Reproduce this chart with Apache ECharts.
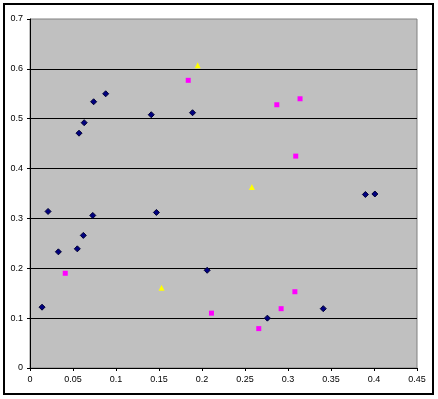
<!DOCTYPE html>
<html>
<head>
<meta charset="utf-8">
<script src="https://cdn.jsdelivr.net/npm/echarts@6/dist/echarts.min.js"></script>
<style>
  html, body { margin: 0; padding: 0; background: #fff; }
  #main { width: 438px; height: 399px; }
</style>
</head>
<body>
<div id="main"></div>
<script>
// navy diamonds
const navyX = [0.014, 0.021, 0.033, 0.055, 0.062, 0.073, 0.057, 0.063, 0.074, 0.088, 0.141, 0.147, 0.189, 0.206, 0.276, 0.341, 0.390, 0.401]
const navyY = [0.122, 0.314, 0.233, 0.239, 0.266, 0.306, 0.471, 0.492, 0.534, 0.550, 0.508, 0.312, 0.512, 0.196, 0.100, 0.119, 0.348, 0.349]
// magenta squares
const pinkX = [0.041, 0.184, 0.211, 0.266, 0.287, 0.292, 0.308, 0.309, 0.314]
const pinkY = [0.190, 0.577, 0.110, 0.079, 0.528, 0.119, 0.153, 0.425, 0.540]
// yellow triangles
const yellowX = [0.153, 0.195, 0.258]
const yellowY = [0.161, 0.607, 0.363]

const xTicks = [0, 0.05, 0.1, 0.15, 0.2, 0.25, 0.3, 0.35, 0.4, 0.45]
// horizontal gridlines (top edge is the gray plot border, not a gridline)
const gridYs = [0.1, 0.2, 0.3, 0.4, 0.5, 0.6]

const zip = (xs, ys) => xs.map((x, i) => [x, ys[i]])

const chart = echarts.init(document.getElementById('main'))

const labelStyle = {
    color: '#000',
    fontFamily: 'Liberation Sans',
    fontSize: 9,
}

chart.setOption({
    animation: false,
    backgroundColor: '#fff',
    graphic: [
        {
            type: 'rect',
            shape: { x: 4, y: 4, width: 429, height: 390 },
            style: { fill: 'none', stroke: '#000', lineWidth: 2 },
            z: 0
        }
    ],
    grid: {
        left: 30,
        top: 19,
        right: 21,
        bottom: 31,
        show: true,
        backgroundColor: '#c0c0c0',
        borderColor: '#808080',
        borderWidth: 1
    },
    xAxis: {
        type: 'value',
        min: 0,
        max: 0.45,
        interval: 0.05,
        splitLine: { show: false },
        axisLine: { show: true, onZero: false, lineStyle: { color: '#000', width: 1 } },
        axisTick: { show: true, length: 3, lineStyle: { color: '#000' } },
        axisLabel: {
            ...labelStyle,
            margin: 7,
            formatter: v => {
                const t = xTicks.find(k => Math.abs(k - v) < 1e-9)
                return t === undefined ? '' : String(t)
            }
        }
    },
    yAxis: {
        type: 'value',
        min: 0,
        max: 0.7,
        interval: 0.1,
        splitLine: { show: false },
        axisLine: { show: true, onZero: false, lineStyle: { color: '#000', width: 1 } },
        axisTick: { show: true, length: 3, lineStyle: { color: '#000' } },
        axisLabel: {
            ...labelStyle,
            margin: 7,
            formatter: v => String(Math.round(v * 10) / 10)
        }
    },
    series: [
        {
            type: 'scatter',
            data: zip(navyX, navyY),
            symbol: 'diamond',
            symbolSize: 6,
            z: 3,
            itemStyle: { color: '#000080', borderColor: '#000033', borderWidth: 1, opacity: 1 },
            markLine: {
                silent: true,
                symbol: 'none',
                label: { show: false },
                lineStyle: { color: '#000', width: 1, type: 'solid' },
                z: 1,
                data: gridYs.map(y => ({ yAxis: y }))
            }
        },
        {
            type: 'scatter',
            data: zip(pinkX, pinkY),
            symbol: 'rect',
            symbolSize: 5,
            z: 3,
            itemStyle: { color: '#ff00ff', opacity: 1 }
        },
        {
            type: 'scatter',
            data: zip(yellowX, yellowY),
            symbol: 'triangle',
            symbolSize: 6,
            z: 3,
            itemStyle: { color: '#ffff00', opacity: 1 }
        }
    ]
})
</script>
</body>
</html>
